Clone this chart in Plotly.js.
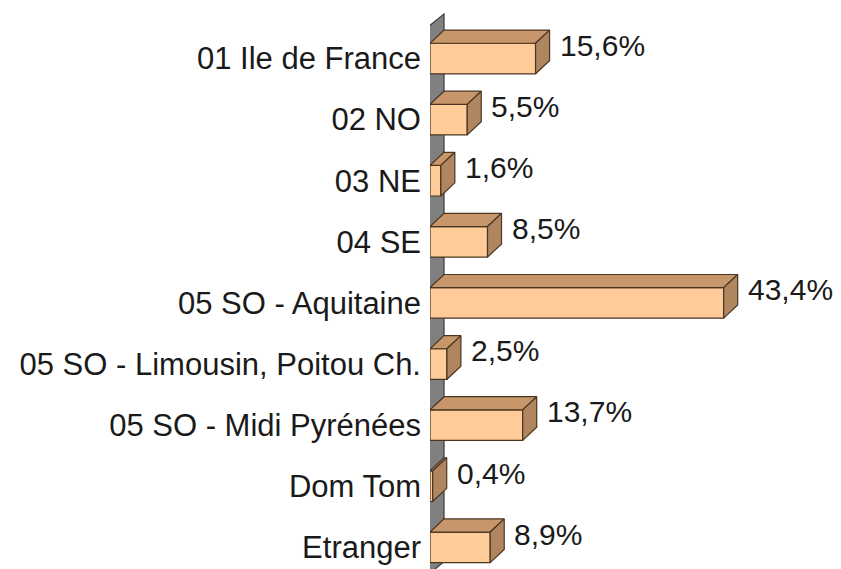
<!DOCTYPE html>
<html>
<head>
<meta charset="utf-8">
<script src="https://cdn.plot.ly/plotly-3.0.1.min.js"></script>
<style>html,body{margin:0;padding:0;background:#fff;}#chart{width:841px;height:569px;}</style>
</head>
<body>
<div id="chart"></div>
<script>
var categories = ["01 Ile de France", "02 NO", "03 NE", "04 SE", "05 SO - Aquitaine",
  "05 SO - Limousin, Poitou Ch.", "05 SO - Midi Pyrénées", "Dom Tom", "Etranger"];
var values = [15.6, 5.5, 1.6, 8.5, 43.4, 2.5, 13.7, 0.4, 8.9];
var valueLabels = ["15,6%", "5,5%", "1,6%", "8,5%", "43,4%", "2,5%", "13,7%", "0,4%", "8,9%"];

// 3D styling (in axis units)
var DX = 2.07, DY = 0.215, HALF = 0.25;
var FRONT = "#FFCC99", TOP = "#C8966B", SIDE = "#B08660", EDGE = "#4a3520";
var FONT = "Liberation Sans, Arial, sans-serif";

var idx = categories.map(function (_, i) { return i; });

var topX = [], topY = [], sideX = [], sideY = [];
values.forEach(function (v, i) {
  var yt = i - HALF, yb = i + HALF;
  topX.push(0, v, v + DX, DX, 0, null);
  topY.push(yt, yt, yt - DY, yt - DY, yt, null);
  sideX.push(v, v + DX, v + DX, v, v, null);
  sideY.push(yt, yt - DY, yb - DY, yb, yt, null);
});

var traces = [
  {type: "bar", orientation: "h", x: values, y: idx, width: 2 * HALF,
   marker: {color: FRONT, line: {color: EDGE, width: 1.2}}, hoverinfo: "skip"},
  {type: "scatter", mode: "lines", x: topX, y: topY, fill: "toself", fillcolor: TOP,
   line: {color: EDGE, width: 1.2}, hoverinfo: "skip"},
  {type: "scatter", mode: "lines", x: sideX, y: sideY, fill: "toself", fillcolor: SIDE,
   line: {color: EDGE, width: 1.2}, hoverinfo: "skip"}
];

var annotations = values.map(function (v, i) {
  return {x: v + DX, y: i - DY, xref: "x", yref: "y", text: valueLabels[i],
    showarrow: false, xanchor: "left", yanchor: "middle", xshift: 8,
    font: {family: FONT, size: 30, color: "#1a1a1a"}};
});

var wallTop = -0.515, wallBot = 8.45;
var layout = {
  width: 841, height: 569,
  margin: {l: 430, r: 5, t: 0, b: 0},
  paper_bgcolor: "#ffffff", plot_bgcolor: "#ffffff",
  showlegend: false,
  bargap: 0,
  xaxis: {range: [0, 60], showgrid: false, zeroline: false, showticklabels: false,
    showline: false, ticks: ""},
  yaxis: {range: [8.355, -0.9575], tickmode: "array", tickvals: idx, ticktext: categories,
    showgrid: false, zeroline: false, showline: false, ticks: "", ticklabelstandoff: 8,
    tickfont: {family: FONT, size: 31, color: "#1a1a1a"}},
  shapes: [{type: "path", xref: "x", yref: "y", layer: "below",
    path: "M -0.3," + wallTop + " L " + DX + "," + (wallTop - DY) + " L " + DX + "," + (wallBot - DY) +
      " L -0.3," + wallBot + " Z",
    fillcolor: "#808080", line: {color: "#3a3a3a", width: 1.2}}],
  annotations: annotations
};

Plotly.newPlot("chart", traces, layout, {displayModeBar: false, staticPlot: true});
</script>
</body>
</html>
